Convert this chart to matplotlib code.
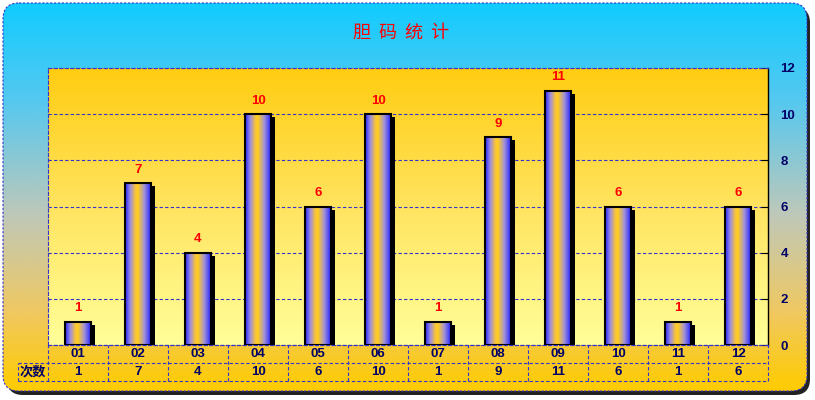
import numpy as np
import matplotlib
matplotlib.use('Agg')
import matplotlib.pyplot as plt
from matplotlib.patches import FancyBboxPatch
from matplotlib.transforms import ScaledTranslation

plt.rcParams['font.family'] = ['Liberation Sans', 'Noto Sans CJK SC']

# data
categories = ['01', '02', '03', '04', '05', '06', '07', '08', '09', '10', '11', '12']
counts = [1, 7, 4, 10, 6, 10, 1, 9, 11, 6, 1, 6]
row_label = '次数'
title = '胆  码  统  计'
yticks = [0, 2, 4, 6, 8, 10, 12]

NAVY = '#000066'
GRIDBLUE = '#3333CC'


def gradient(stops, n=256):
    # stops: list of (pos, hex)
    pos = [p for p, _ in stops]
    cols = np.array([matplotlib.colors.to_rgb(c) for _, c in stops])
    t = np.linspace(0, 1, n)
    return np.stack([np.interp(t, pos, cols[:, k]) for k in range(3)], axis=1)


fig = plt.figure(figsize=(8.15, 4.0), dpi=100)
fig.patch.set_facecolor('white')

# background frame
bg = fig.add_axes([0, 0, 1, 1])
bg.set_xlim(0, 815)
bg.set_ylim(400, 0)
bg.axis('off')
shadow = FancyBboxPatch((7, 7), 803, 388, boxstyle='round,pad=0,rounding_size=16',
                        fc='#222222', ec='none')
bg.add_patch(shadow)
frame = FancyBboxPatch((3, 3), 804, 388, boxstyle='round,pad=0,rounding_size=16',
                       fc='none', ec='none')
bg.add_patch(frame)
bg_grad = gradient([(0, '#11CCFF'), (0.25, '#55C8F0'), (0.55, '#C0C8B8'),
                    (0.8, '#F0C860'), (1, '#FFCC00')])
im = bg.imshow(bg_grad[:, None, :], extent=(3, 807, 391, 3), aspect='auto', zorder=1)
im.set_clip_path(frame)
border = FancyBboxPatch((3, 3), 804, 388, boxstyle='round,pad=0,rounding_size=16',
                        fc='none', ec=GRIDBLUE, lw=0.8, ls=(0, (2, 1.5)), zorder=2)
bg.add_patch(border)
bg.set_xlim(0, 815)
bg.set_ylim(400, 0)

fig.text(401 / 815, 1 - 33 / 400, title, color='red', fontsize=13,
         ha='center', va='center', family=['Noto Sans CJK SC'])

# main plot
ax = fig.add_axes([48 / 815, 55 / 400, 720 / 815, 277 / 400])
ax.patch.set_alpha(0)
x = np.arange(len(categories))
w = 0.42
area = gradient([(0, '#FFCC11'), (0.5, '#FFE460'), (1, '#FFFF99')])
ax.imshow(area[:, None, :], extent=(-0.5, 11.5, 0, 12), aspect='auto', zorder=0)

ax.set_axisbelow(True)
ax.yaxis.grid(True, color=GRIDBLUE, ls=(0, (3, 2)), lw=0.8)
ax.xaxis.grid(False)

off = ScaledTranslation(4 / 100, -3 / 100, fig.dpi_scale_trans)
ax.bar(x, counts, w, color='black', zorder=2, transform=ax.transData + off)

bar_grad = gradient([(0, '#2222FF'), (0.2, '#9C8CE0'), (0.42, '#FFC830'),
                     (0.5, '#FFCC22'), (0.75, '#A090D8'), (1, '#2222FF')])
for xi, v in zip(x, counts):
    ax.imshow(bar_grad[None, :, :], extent=(xi - w / 2, xi + w / 2, 0, v),
              aspect='auto', zorder=3)
ax.bar(x, counts, w, facecolor='none', edgecolor='black', lw=1.5, zorder=4)

for xi, v in zip(x, counts):
    ax.annotate(str(v), (xi, v), xytext=(0, 5.5), textcoords='offset points',
                ha='center', va='bottom', color='red', fontweight='bold', fontsize=9.5)

ax.set_xlim(-0.5, 11.5)
ax.set_ylim(0, 12)
ax.set_xticks([])
ax.yaxis.tick_right()
ax.set_yticks(yticks)
ax.tick_params(axis='y', direction='in', length=5, color='black', labelcolor=NAVY,
               labelsize=9.5, pad=9)
for lab in ax.get_yticklabels():
    lab.set_fontweight('bold')
ax.spines['right'].set_color('black')
ax.spines['right'].set_linewidth(1.0)
for s in ['top', 'left', 'bottom']:
    ax.spines[s].set_color(GRIDBLUE)
    ax.spines[s].set_linestyle((0, (3, 2)))
    ax.spines[s].set_linewidth(0.8)

# data table under the chart
tax = fig.add_axes([18 / 815, 19 / 400, 750 / 815, 36 / 400])
tax.set_xlim(-1, 11.5)
tax.set_ylim(0, 2)
tax.axis('off')
ls = (0, (3, 2))
tax.plot([-0.5, 11.5], [2, 2], color=GRIDBLUE, lw=0.8, ls=ls, clip_on=False)
tax.plot([-1, 11.5], [1, 1], color=GRIDBLUE, lw=0.8, ls=ls, clip_on=False)
tax.plot([-1, 11.5], [0, 0], color=GRIDBLUE, lw=0.8, ls=ls, clip_on=False)
tax.plot([-1, -1], [0, 1], color=GRIDBLUE, lw=0.8, ls=ls, clip_on=False)
for k in range(len(categories) + 1):
    tax.plot([k - 0.5, k - 0.5], [0, 2], color=GRIDBLUE, lw=0.8, ls=ls, clip_on=False)
for xi, c, v in zip(x, categories, counts):
    tax.text(xi, 1.5, c, ha='center', va='center', color=NAVY, fontweight='bold', fontsize=9.5)
    tax.text(xi, 0.5, str(v), ha='center', va='center', color=NAVY, fontweight='bold', fontsize=9.5)
tax.text(-0.75, 0.5, row_label, ha='center', va='center', color=NAVY,
         fontweight='bold', fontsize=9.5)

fig.savefig('out.png', dpi=100)
